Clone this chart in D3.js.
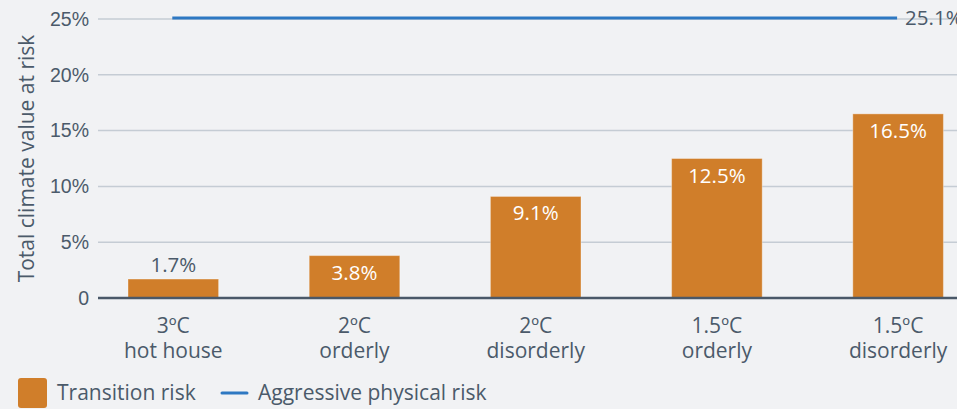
<!DOCTYPE html>
<html>
<head>
<meta charset="utf-8">
<script src="https://cdn.jsdelivr.net/npm/d3@7"></script>
<style>
  html, body { margin: 0; padding: 0; background: #f1f2f4; }
  svg { display: block; font-family: "Open Sans", sans-serif; }
</style>
</head>
<body>
<svg id="chart" width="957" height="409"></svg>
<script>
// Scenario data: transition risk per scenario, plus aggressive physical risk
const scenarioTemps = ["3ºC", "2ºC", "2ºC", "1.5ºC", "1.5ºC"];
const scenarioNames = ["hot house", "orderly", "disorderly", "orderly", "disorderly"];
const transitionRisk = [1.7, 3.8, 9.1, 12.5, 16.5];
const physicalRisk = 25.1;
const yTicks = [0, 5, 10, 15, 20, 25];
const yTickLabels = ["0", "5%", "10%", "15%", "20%", "25%"];

const W = 957, H = 409;
const margin = { left: 98, top: 19, bottom: 111 };
const plotBottom = H - margin.bottom; // 298

const textColor = "#4b5a6a";
const barColor = "#d07e2a";
const lineColor = "#2e78c2";
const gridColor = "#c5ccd4";

const svg = d3.select("#chart");
const keys = d3.range(transitionRisk.length);

const x = d3.scaleBand()
  .domain(keys)
  .range([82.7, 988.7])
  .paddingInner(0.5)
  .paddingOuter(0.25);

const y = d3.scaleLinear()
  .domain([0, 25])
  .range([plotBottom, margin.top]);

// Gridlines and y tick labels
const yAxis = d3.axisLeft(y)
  .tickValues(yTicks)
  .tickFormat((d, i) => yTickLabels[i])
  .tickSize(0)
  .tickPadding(9);

const gy = svg.append("g")
  .attr("transform", `translate(${margin.left},0)`)
  .call(yAxis);
gy.select(".domain").remove();
gy.selectAll("text")
  .attr("fill", textColor)
  .attr("font-size", 19.5);

svg.append("g")
  .selectAll("line")
  .data(yTicks.filter(d => d > 0))
  .join("line")
  .attr("x1", margin.left)
  .attr("x2", W)
  .attr("y1", d => y(d))
  .attr("y2", d => y(d))
  .attr("stroke", gridColor)
  .attr("stroke-width", 1.5);

// Y axis title
svg.append("text")
  .attr("transform", `translate(34,${(margin.top + plotBottom) / 2}) rotate(-90)`)
  .attr("text-anchor", "middle")
  .attr("fill", textColor)
  .attr("font-size", 21)
  .text("Total climate value at risk");

// Bars
svg.append("g")
  .selectAll("rect")
  .data(transitionRisk)
  .join("rect")
  .attr("x", (d, i) => x(i))
  .attr("width", x.bandwidth())
  .attr("y", d => y(d))
  .attr("height", d => plotBottom - y(d))
  .attr("fill", barColor)
  .attr("stroke", "rgba(255,255,255,0.35)")
  .attr("stroke-width", 1);

// Value labels: inside the bar when it is tall enough, above it otherwise
svg.append("g")
  .selectAll("text")
  .data(transitionRisk)
  .join("text")
  .attr("x", (d, i) => x(i) + x.bandwidth() / 2)
  .attr("y", d => (plotBottom - y(d) > 30) ? y(d) + 24 : y(d) - 7)
  .attr("text-anchor", "middle")
  .attr("font-size", 20.5)
  .attr("fill", d => (plotBottom - y(d) > 30) ? "#ffffff" : textColor)
  .text(d => d.toFixed(1) + "%");

// Baseline
svg.append("line")
  .attr("x1", margin.left)
  .attr("x2", W)
  .attr("y1", plotBottom)
  .attr("y2", plotBottom)
  .attr("stroke", "#4a5868")
  .attr("stroke-width", 2.5);

// Aggressive physical risk line spanning first to last scenario
const xFirst = x(keys[0]) + x.bandwidth() / 2;
const xLast = x(keys[keys.length - 1]) + x.bandwidth() / 2;
svg.append("line")
  .attr("x1", xFirst - 1)
  .attr("x2", xLast - 1)
  .attr("y1", y(physicalRisk))
  .attr("y2", y(physicalRisk))
  .attr("stroke", lineColor)
  .attr("stroke-width", 3);
svg.append("text")
  .attr("x", xLast + 7)
  .attr("y", y(physicalRisk) + 7)
  .attr("font-size", 20.5)
  .attr("fill", textColor)
  .text(physicalRisk.toFixed(1) + "%");

// Category labels (two lines)
const cat = svg.append("g")
  .selectAll("text")
  .data(keys)
  .join("text")
  .attr("x", i => x(i) + x.bandwidth() / 2)
  .attr("text-anchor", "middle")
  .attr("font-size", 21)
  .attr("fill", textColor);
cat.append("tspan")
  .attr("x", i => x(i) + x.bandwidth() / 2)
  .attr("y", 333)
  .text(i => scenarioTemps[i]);
cat.append("tspan")
  .attr("x", i => x(i) + x.bandwidth() / 2)
  .attr("y", 358)
  .text(i => scenarioNames[i]);

// Legend
const legend = svg.append("g");
legend.append("rect")
  .attr("x", 18).attr("y", 378)
  .attr("width", 29).attr("height", 30)
  .attr("rx", 3)
  .attr("fill", barColor);
legend.append("text")
  .attr("x", 57).attr("y", 400)
  .attr("font-size", 21)
  .attr("fill", textColor)
  .text("Transition risk");
legend.append("line")
  .attr("x1", 222).attr("x2", 247)
  .attr("y1", 393).attr("y2", 393)
  .attr("stroke", lineColor)
  .attr("stroke-width", 3)
  .attr("stroke-linecap", "round");
legend.append("text")
  .attr("x", 258).attr("y", 400)
  .attr("font-size", 21)
  .attr("fill", textColor)
  .text("Aggressive physical risk");
</script>
</body>
</html>
